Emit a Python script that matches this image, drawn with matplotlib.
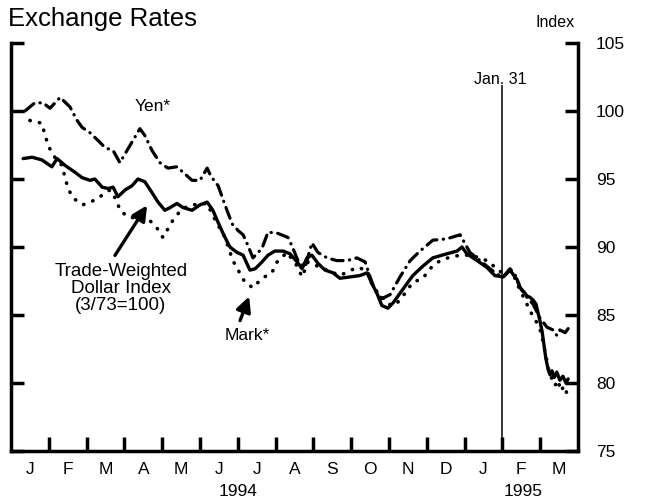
import matplotlib
matplotlib.use('Agg')
import matplotlib.pyplot as plt
from matplotlib.ticker import FixedLocator, FixedFormatter, NullFormatter

plt.rcParams['font.family'] = ['Liberation Sans', 'DejaVu Sans']

# x positions in months since Jan 1, 1994 (0 = Jan 1 1994, 15 = Apr 1 1995)
month_labels = ['J', 'F', 'M', 'A', 'M', 'J', 'J', 'A', 'S', 'O', 'N', 'D', 'J', 'F', 'M']
year_labels = ['1994', '1995']
year_pos = [6.0, 13.55]
yticks = [75, 80, 85, 90, 95, 100, 105]

dollar_x = [0.32, 0.56, 0.82, 1.08, 1.22, 1.43, 1.69, 1.88, 2.09, 2.22,
            2.41, 2.57, 2.70, 2.83, 3.02, 3.20, 3.36, 3.54, 3.73, 3.89,
            4.07, 4.21, 4.39, 4.55, 4.79, 5.00, 5.19, 5.34, 5.48, 5.61,
            5.79, 5.98, 6.14, 6.32, 6.46, 6.64, 6.80, 6.98, 7.20, 7.38,
            7.57, 7.70, 7.83, 7.96, 8.12, 8.31, 8.52, 8.70, 8.97, 9.23,
            9.42, 9.55, 9.68, 9.81, 9.97, 10.11, 10.37, 10.63, 10.90, 11.16,
            11.53, 11.80, 11.93, 12.06, 12.33, 12.59, 12.80, 13.02, 13.10, 13.20,
            13.28, 13.39, 13.47, 13.57, 13.65, 13.73, 13.81, 13.89, 13.94, 13.99,
            14.05, 14.10, 14.15, 14.21, 14.26, 14.31, 14.37, 14.44, 14.52, 14.60,
            14.68, 14.74]
dollar_y = [96.5, 96.6, 96.4, 95.9, 96.5, 96.0, 95.5, 95.1, 94.9, 95.0,
            94.4, 94.3, 94.4, 93.7, 94.2, 94.5, 95.0, 94.8, 94.0, 93.3,
            92.7, 92.9, 93.2, 92.9, 92.7, 93.1, 93.3, 92.7, 91.8, 91.0,
            90.0, 89.6, 89.4, 88.3, 88.4, 88.9, 89.4, 89.7, 89.7, 89.5,
            88.9, 88.4, 89.2, 89.4, 88.8, 88.3, 88.1, 87.7, 87.8, 87.9,
            88.1, 87.3, 86.6, 85.7, 85.5, 85.9, 86.9, 87.9, 88.6, 89.2,
            89.5, 89.7, 90.0, 89.5, 89.0, 88.5, 87.9, 87.8, 88.0, 88.3,
            88.0, 87.6, 87.0, 86.7, 86.4, 86.3, 86.1, 85.8, 85.2, 84.6,
            83.8, 82.8, 81.8, 81.0, 80.6, 80.9, 80.4, 80.8, 80.2, 80.5,
            80.0, 80.3]

yen_x = [0.37, 0.63, 0.85, 1.03, 1.30, 1.56, 1.75, 1.88, 2.09, 2.35,
         2.49, 2.70, 2.88, 3.07, 3.41, 3.54, 3.73, 3.94, 4.15, 4.39,
         4.55, 4.79, 5.00, 5.19, 5.29, 5.48, 5.66, 5.85, 6.01, 6.14,
         6.27, 6.40, 6.64, 6.80, 7.06, 7.33, 7.46, 7.59, 7.78, 7.96,
         8.12, 8.36, 8.62, 8.89, 9.15, 9.37, 9.50, 9.63, 9.81, 10.03,
         10.29, 10.56, 10.82, 11.16, 11.53, 11.88, 12.14, 12.41, 12.67, 12.86,
         13.02, 13.20, 13.33, 13.47, 13.65, 13.81, 13.99, 14.18, 14.34, 14.44,
         14.52, 14.66, 14.74]
yen_y = [100.0, 100.6, 100.6, 100.2, 101.0, 100.3, 99.3, 98.8, 98.4, 97.7,
         97.3, 97.1, 96.2, 97.1, 98.7, 98.2, 97.1, 96.2, 95.8, 95.9,
         95.5, 94.9, 94.9, 95.8, 95.2, 94.5, 93.1, 91.7, 91.2, 90.9,
         90.1, 89.2, 89.9, 91.1, 91.0, 90.7, 89.9, 89.0, 88.5, 90.3,
         89.6, 89.2, 89.0, 89.0, 89.2, 88.9, 87.8, 86.8, 86.2, 86.5,
         87.8, 89.0, 89.7, 90.5, 90.6, 90.9, 89.6, 89.0, 88.4, 88.0,
         87.8, 88.4, 88.0, 87.0, 86.3, 85.8, 84.8, 84.1, 83.9, 83.5,
         83.9, 83.7, 84.0]

mark_x = [0.50, 0.82, 0.90, 1.01, 1.16, 1.35, 1.43, 1.51, 1.64, 1.90,
          2.17, 2.41, 2.62, 2.80, 2.88, 3.10, 3.41, 3.62, 3.86, 4.02,
          4.29, 4.52, 4.79, 5.19, 5.34, 5.66, 5.87, 6.01, 6.19, 6.40,
          6.64, 6.90, 7.04, 7.30, 7.57, 7.70, 7.86, 8.10, 8.36, 8.70,
          9.15, 9.42, 9.58, 9.81, 9.97, 10.16, 10.37, 10.63, 10.90, 11.08,
          11.35, 11.56, 11.88, 12.14, 12.41, 12.67, 12.86, 13.02, 13.20, 13.33,
          13.47, 13.60, 13.73, 13.86, 13.99, 14.07, 14.15, 14.23, 14.31, 14.39,
          14.47, 14.55, 14.63, 14.71]
mark_y = [99.3, 99.1, 98.2, 97.3, 96.6, 96.0, 95.1, 94.3, 93.6, 93.1,
          93.4, 93.8, 94.2, 93.4, 92.7, 92.2, 92.1, 92.1, 91.4, 90.7,
          92.0, 92.8, 93.1, 93.2, 92.3, 90.7, 89.0, 88.3, 87.4, 87.0,
          87.7, 88.1, 88.9, 89.6, 88.6, 87.8, 88.9, 88.6, 88.3, 87.9,
          88.5, 88.3, 87.0, 86.4, 85.8, 85.7, 86.4, 87.4, 87.7, 88.4,
          89.0, 89.2, 89.4, 89.4, 89.2, 88.9, 88.3, 88.1, 88.3, 87.7,
          86.8, 86.1, 85.3, 84.7, 84.0, 83.1, 82.0, 80.9, 80.3, 79.8,
          80.2, 79.4, 79.8, 79.2]

fig = plt.figure(figsize=(6.45, 5.01), dpi=100)
ax = fig.add_axes([11 / 645, 50 / 501, 567 / 645, 408 / 501])

ax.plot(dollar_x, dollar_y, color='black', lw=2.4,
        solid_joinstyle='round', solid_capstyle='round')
ax.plot(yen_x, yen_y, color='black', lw=2.3,
        linestyle=(0, (3.6, 2.0, 0.1, 2.0)), dash_capstyle='round')
ax.plot(mark_x, mark_y, color='black', lw=2.6,
        linestyle=(0, (0.1, 2.6)), dash_capstyle='round')

ax.set_xlim(0, 15)
ax.set_ylim(75, 105)

for side in ['left', 'right', 'bottom']:
    ax.spines[side].set_linewidth(2.5)
ax.spines['top'].set_visible(False)

ax.xaxis.set_major_locator(FixedLocator(list(range(1, 15))))
ax.xaxis.set_minor_locator(FixedLocator([i + 0.5 for i in range(15)]))
ax.xaxis.set_major_formatter(NullFormatter())
ax.xaxis.set_minor_formatter(FixedFormatter(month_labels))
ax.tick_params(axis='x', which='major', direction='in', length=10, width=2.5)
ax.tick_params(axis='x', which='minor', length=0, pad=8, labelsize=12.5)

ax.yaxis.set_major_locator(FixedLocator(yticks))
ax.yaxis.set_minor_locator(FixedLocator([105]))
ax.yaxis.set_major_formatter(FixedFormatter([str(v) for v in yticks]))
ax.yaxis.set_minor_formatter(NullFormatter())
ax.tick_params(axis='y', which='major', left=True, right=True, labelleft=False,
               labelright=True, direction='in', length=9.5, width=2.5,
               pad=13, labelsize=12.5)
ax.tick_params(axis='y', which='minor', left=True, right=True, direction='in',
               length=19, width=2.5)

trans = ax.get_xaxis_transform()
for pos, lab in zip(year_pos, year_labels):
    ax.text(pos, -0.10, lab, transform=trans, ha='center', va='center', fontsize=12.5)

ax.vlines(13, 75, 101.9, color='black', lw=1.1)
ax.text(12.93, 102.35, 'Jan. 31', ha='center', va='center', fontsize=11.5)
ax.text(14.39, 106.5, 'Index', ha='center', va='center', fontsize=11.5, clip_on=False)

fig.text(8 / 645, 1 - 26 / 501, 'Exchange Rates', fontsize=18.5, ha='left', va='baseline')

arrow_kw = dict(arrowstyle='-|>,head_length=0.9,head_width=0.45', lw=2.4,
                color='black', mutation_scale=10, shrinkA=0, shrinkB=0)
ax.text(2.91, 86.95, 'Trade-Weighted\nDollar Index\n(3/73=100)', ha='center',
        va='center', fontsize=13.5, linespacing=0.98)
ax.annotate('', xy=(3.60, 93.06), xytext=(2.75, 89.38), arrowprops=arrow_kw)
ax.text(6.24, 83.48, 'Mark*', ha='center', va='center', fontsize=12.5)
ax.annotate('', xy=(6.30, 86.36), xytext=(6.06, 84.59), arrowprops=arrow_kw)
ax.text(3.76, 100.36, 'Yen*', ha='center', va='center', fontsize=12.5)

fig.savefig('out.png', dpi=100)
